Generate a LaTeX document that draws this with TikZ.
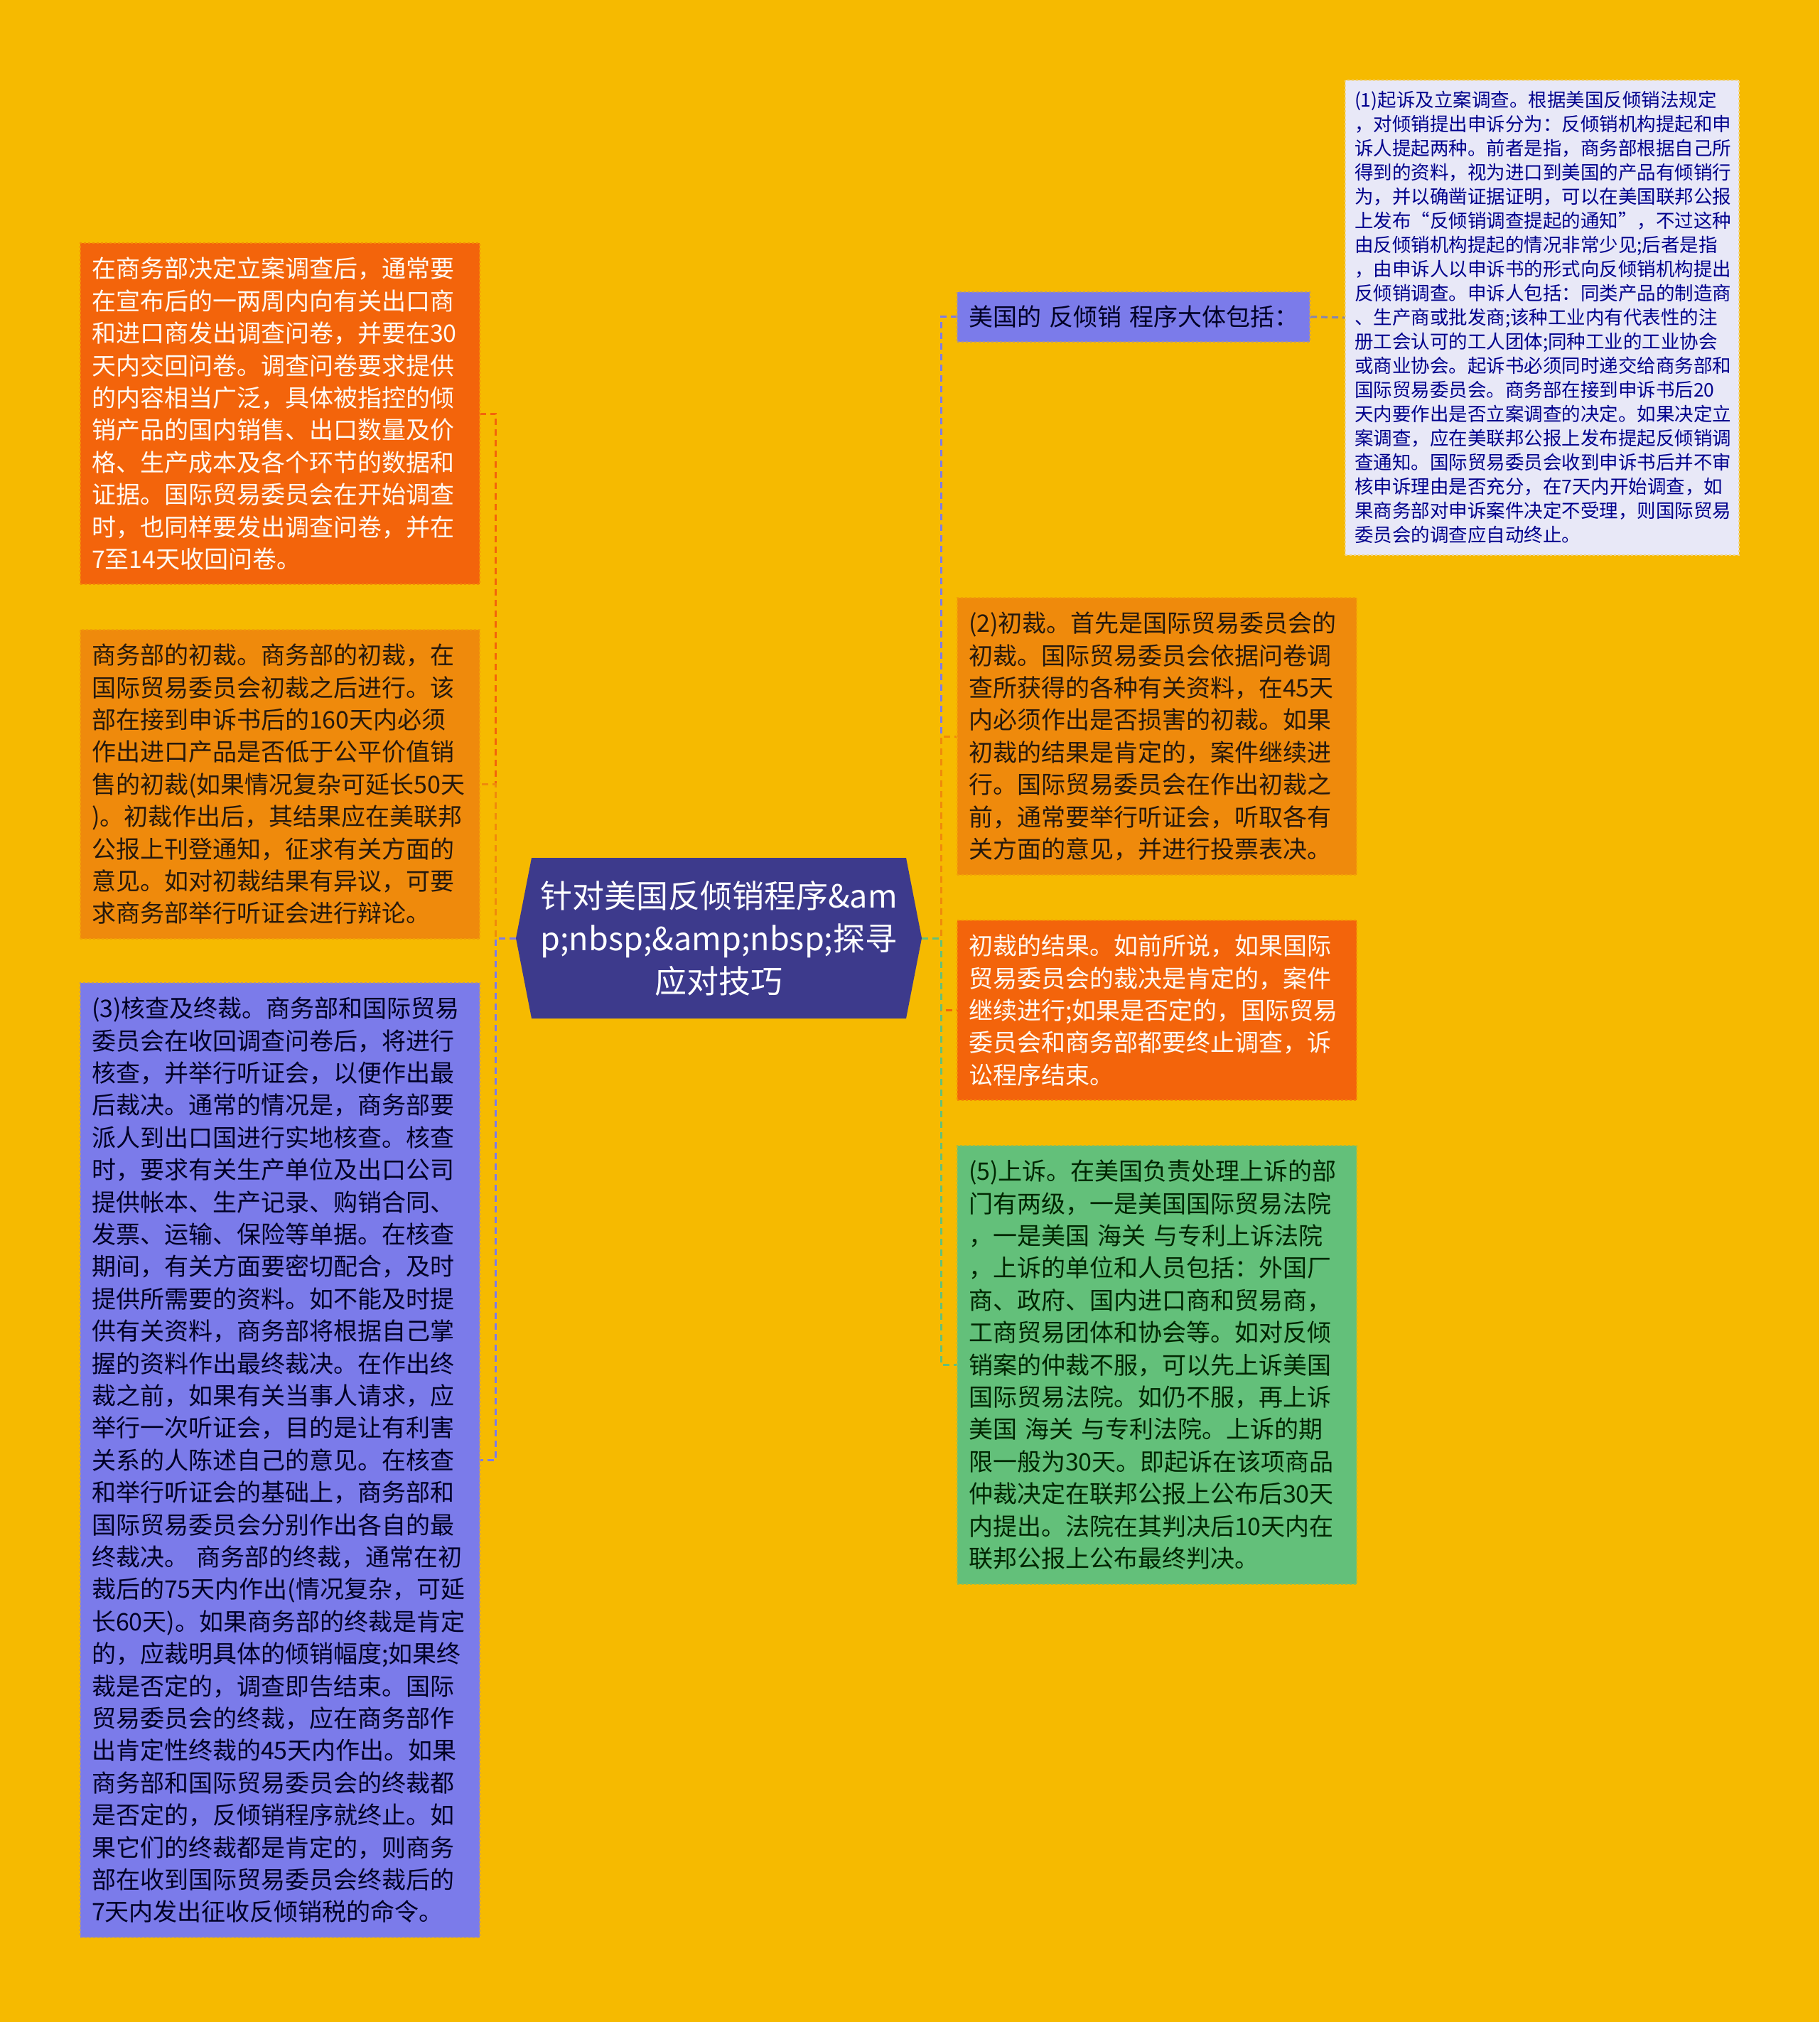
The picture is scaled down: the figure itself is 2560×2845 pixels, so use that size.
\documentclass[tikz,border=0pt]{standalone}
\usepackage{fontspec}
\newfontfamily\cjk{Noto Sans CJK SC}
\definecolor{bgyellow}{HTML}{F6BA00}
\definecolor{redorange}{HTML}{F3640B}
\definecolor{orangefill}{HTML}{EF8A0C}
\definecolor{bluefill}{HTML}{7B7BEA}
\definecolor{greenfill}{HTML}{63C07A}
\definecolor{paleblue}{HTML}{E8E8F7}
\definecolor{rootfill}{HTML}{3D3A8C}
\definecolor{linkgray}{HTML}{8585B0}

\begin{document}
\begin{tikzpicture}[x=1pt,y=-1pt,
  box/.style={anchor=north west, text width=530pt, inner xsep=16pt, inner ysep=20pt,
    align=left, font=\cjk\fontsize{34}{45.4}\selectfont, draw, dashed, line width=2pt},
  redbox/.style={box, fill=redorange, draw=redorange!55!bgyellow, text=white!95!orange},
  orangebox/.style={box, fill=orangefill, draw=orangefill!55!bgyellow, text=black!80!brown},
  bluebox/.style={box, fill=bluefill, draw=bluefill!60!bgyellow, text=black!85!blue},
  greenbox/.style={box, fill=greenfill, draw=greenfill!60!bgyellow, text=black!85!green},
  smallbox/.style={box, fill=paleblue, draw=paleblue!60!bgyellow, text=blue!55!black,
    text width=528pt, inner xsep=13pt, inner ysep=15.5pt, font=\cjk\fontsize{26.5}{34}\selectfont},
  link/.style={line width=3pt, dash pattern=on 9pt off 6pt}]
\useasboundingbox (0,0) rectangle (2560,2845);
\fill[bgyellow] (0,0) rectangle (2560,2845);

% left side
\node[redbox] (survey) at (112,341) {在商务部决定立案调查后，通常要\\在宣布后的一两周内向有关出口商\\和进口商发出调查问卷，并要在30\\天内交回问卷。调查问卷要求提供\\的内容相当广泛，具体被指控的倾\\销产品的国内销售、出口数量及价\\格、生产成本及各个环节的数据和\\证据。国际贸易委员会在开始调查\\时，也同样要发出调查问卷，并在\\7至14天收回问卷。};
\node[orangebox] (deptprelim) at (112,885) {商务部的初裁。商务部的初裁，在\\国际贸易委员会初裁之后进行。该\\部在接到申诉书后的160天内必须\\作出进口产品是否低于公平价值销\\售的初裁(如果情况复杂可延长50天\\)。初裁作出后，其结果应在美联邦\\公报上刊登通知，征求有关方面的\\意见。如对初裁结果有异议，可要\\求商务部举行听证会进行辩论。};
\node[bluebox] (final) at (112,1382) {(3)核查及终裁。商务部和国际贸易\\委员会在收回调查问卷后，将进行\\核查，并举行听证会，以便作出最\\后裁决。通常的情况是，商务部要\\派人到出口国进行实地核查。核查\\时，要求有关生产单位及出口公司\\提供帐本、生产记录、购销合同、\\发票、运输、保险等单据。在核查\\期间，有关方面要密切配合，及时\\提供所需要的资料。如不能及时提\\供有关资料，商务部将根据自己掌\\握的资料作出最终裁决。在作出终\\裁之前，如果有关当事人请求，应\\举行一次听证会，目的是让有利害\\关系的人陈述自己的意见。在核查\\和举行听证会的基础上，商务部和\\国际贸易委员会分别作出各自的最\\终裁决。 商务部的终裁，通常在初\\裁后的75天内作出(情况复杂，可延\\长60天)。如果商务部的终裁是肯定\\的，应裁明具体的倾销幅度;如果终\\裁是否定的，调查即告结束。国际\\贸易委员会的终裁，应在商务部作\\出肯定性终裁的45天内作出。如果\\商务部和国际贸易委员会的终裁都\\是否定的，反倾销程序就终止。如\\果它们的终裁都是肯定的，则商务\\部在收到国际贸易委员会终裁后的\\7天内发出征收反倾销税的命令。};

% root
\fill[rootfill] (726,1320) -- (748,1207) -- (1275,1207) -- (1297,1320) -- (1275,1433) -- (748,1433) -- cycle;
\node[text=white, align=center, font=\cjk\fontsize{45}{60}\selectfont, minimum width=571pt, minimum height=226pt, inner sep=0pt] (root) at (1011.5,1320) {针对美国反倾销程序\&am\\p;nbsp;\&amp;nbsp;探寻\\应对技巧};

% right side
\node[bluebox, text width=464pt, inner ysep=19pt] (steps) at (1346,410) {\mbox{美国的 反倾销 程序大体包括：}};
\node[smallbox] (filing) at (1892,112) {(1)起诉及立案调查。根据美国反倾销法规定\\，对倾销提出申诉分为：反倾销机构提起和申\\诉人提起两种。前者是指，商务部根据自己所\\得到的资料，视为进口到美国的产品有倾销行\\为，并以确凿证据证明，可以在美国联邦公报\\上发布“反倾销调查提起的通知”，不过这种\\由反倾销机构提起的情况非常少见;后者是指\\，由申诉人以申诉书的形式向反倾销机构提出\\反倾销调查。申诉人包括：同类产品的制造商\\、生产商或批发商;该种工业内有代表性的注\\册工会认可的工人团体;同种工业的工业协会\\或商业协会。起诉书必须同时递交给商务部和\\国际贸易委员会。商务部在接到申诉书后20\\天内要作出是否立案调查的决定。如果决定立\\案调查，应在美联邦公报上发布提起反倾销调\\查通知。国际贸易委员会收到申诉书后并不审\\核申诉理由是否充分，在7天内开始调查，如\\果商务部对申诉案件决定不受理，则国际贸易\\委员会的调查应自动终止。};
\node[orangebox] (prelim) at (1346,840) {(2)初裁。首先是国际贸易委员会的\\初裁。国际贸易委员会依据问卷调\\查所获得的各种有关资料，在45天\\内必须作出是否损害的初裁。如果\\初裁的结果是肯定的，案件继续进\\行。国际贸易委员会在作出初裁之\\前，通常要举行听证会，听取各有\\关方面的意见，并进行投票表决。};
\node[redbox] (result) at (1346,1294) {初裁的结果。如前所说，如果国际\\贸易委员会的裁决是肯定的，案件\\继续进行;如果是否定的，国际贸易\\委员会和商务部都要终止调查，诉\\讼程序结束。};
\node[greenbox] (appeal) at (1346,1611) {(5)上诉。在美国负责处理上诉的部\\门有两级，一是美国国际贸易法院\\，一是美国 海关 与专利上诉法院\\，上诉的单位和人员包括：外国厂\\商、政府、国内进口商和贸易商，\\工商贸易团体和协会等。如对反倾\\销案的仲裁不服，可以先上诉美国\\国际贸易法院。如仍不服，再上诉\\美国 海关 与专利法院。上诉的期\\限一般为30天。即起诉在该项商品\\仲裁决定在联邦公报上公布后30天\\内提出。法院在其判决后10天内在\\联邦公报上公布最终判决。};

\draw[link, redorange] (root.west) -- ++(-28,0) |- (survey.east);
\draw[link, orangefill] (root.west) -- ++(-28,0) |- (deptprelim.east);
\draw[link, bluefill] (root.west) -- ++(-28,0) |- (final.east);
\draw[link, bluefill] (root.east) -- ++(27,0) |- (steps.west);
\draw[link, orangefill] (root.east) -- ++(27,0) |- (prelim.west);
\draw[link, redorange] (root.east) -- ++(27,0) |- (result.west);
\draw[link, greenfill] (root.east) -- ++(27,0) |- (appeal.west);
\draw[link, linkgray] (steps.east) -- (filing.west);
\end{tikzpicture}
\end{document}
